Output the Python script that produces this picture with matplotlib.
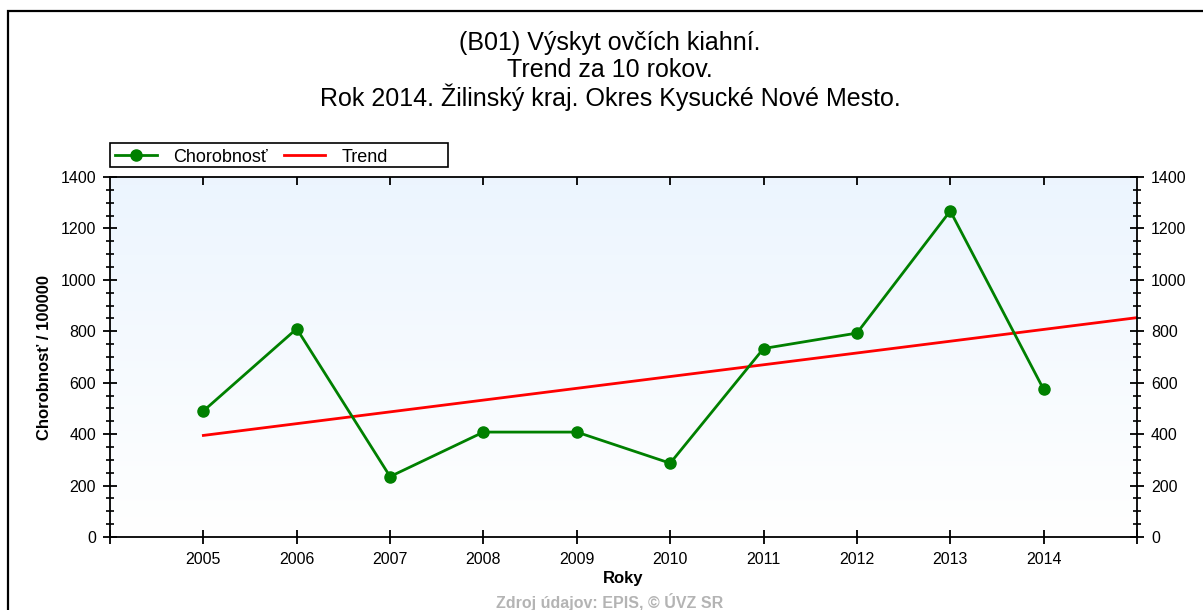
import numpy as np
import matplotlib
matplotlib.use('Agg')
import matplotlib.pyplot as plt
from matplotlib.patches import Rectangle
from matplotlib.ticker import MultipleLocator

plt.rcParams['font.family'] = ['Liberation Sans', 'DejaVu Sans']

# values
years = [2005, 2006, 2007, 2008, 2009, 2010, 2011, 2012, 2013, 2014]
incidence = [490, 810, 235, 408, 408, 287, 733, 793, 1268, 574]
trend_years = [2005, 2015]
trend_values = [395, 853]

title_lines = ['(B01) Výskyt ovčích kiahní.',
               'Trend za 10 rokov.',
               'Rok 2014. Žilinský kraj. Okres Kysucké Nové Mesto.']

fig = plt.figure(figsize=(12.03, 6.10), dpi=100)
W, H = 1203, 610

# outer frame of the picture (cut off at right and bottom)
fig.patches.append(Rectangle((8 / W, -0.5), 1.5, 1.5 - 11 / H,
                             transform=fig.transFigure, fill=False,
                             edgecolor='black', linewidth=1.6))

ax = fig.add_axes([110 / W, 1 - 537 / H, 1027 / W, 360 / H])

# light blue (top) to white (bottom) background gradient
grad = np.linspace(0, 1, 256)[:, None, None]
top = np.array([0.925, 0.960, 0.996])
bot = np.array([1.0, 1.0, 1.0])
img = top * (1 - grad) + bot * grad
ax.imshow(img, extent=[2004, 2015, 0, 1400], origin='upper',
          aspect='auto', zorder=0)
ax.set_xlim(2004, 2015)
ax.set_ylim(0, 1400)

ax.plot(years, incidence, color='#008000', linewidth=2, marker='o',
        markersize=8, label='Chorobnosť', zorder=3)
ax.plot(trend_years, trend_values, color='#ff0000', linewidth=2,
        label='Trend', zorder=2)

for s in ax.spines.values():
    s.set_linewidth(1.3)

ax.set_xticks(range(2004, 2016))
ax.set_xticklabels([''] + [str(y) for y in years] + [''])
ax.yaxis.set_major_locator(MultipleLocator(200))
ax.yaxis.set_minor_locator(MultipleLocator(50))
ax.tick_params(axis='y', which='major', direction='inout', length=10,
               width=1.3, labelsize=11.5, left=True, right=True,
               labelleft=True, labelright=True, pad=5)
ax.tick_params(axis='y', which='minor', direction='inout', length=6,
               width=1.2, left=True, right=True)
ax.tick_params(axis='x', which='major', direction='inout', length=10,
               width=1.3, labelsize=11.5, top=False, pad=6)
# short inner ticks along the top edge
ax2 = ax.secondary_xaxis('top')
ax2.set_xticks(years)
ax2.tick_params(direction='in', length=6, width=1.3, labeltop=False)
ax2.spines['top'].set_visible(False)

ax.set_xlabel('Roky', fontsize=12, fontweight='bold', labelpad=3)
ax.set_ylabel('Chorobnosť / 100000', fontsize=12, fontweight='bold',
              labelpad=6)

for i, line in enumerate(title_lines):
    fig.text(610 / W, 1 - (43 + 27 * i) / H, line, ha='center', va='center',
             fontsize=18)

fig.text(610 / W, 1 - 602 / H, 'Zdroj údajov: EPIS, © ÚVZ SR', ha='center',
         va='center', fontsize=11.5, color='#b4b4b4', fontweight='bold')

# legend with its own box
fig.patches.append(Rectangle((110 / W, 1 - 167 / H), 338 / W, 24 / H,
                             transform=fig.transFigure, fill=False,
                             edgecolor='black', linewidth=1.2))
leg = fig.legend(handles=ax.get_lines(), loc='center left', ncol=2,
                 bbox_to_anchor=(115 / W, 1 - 157 / H), frameon=False,
                 fontsize=13, handlelength=2.3, handletextpad=0.9,
                 borderpad=0, borderaxespad=0, columnspacing=0.9)

fig.savefig('out.png', dpi=100)
